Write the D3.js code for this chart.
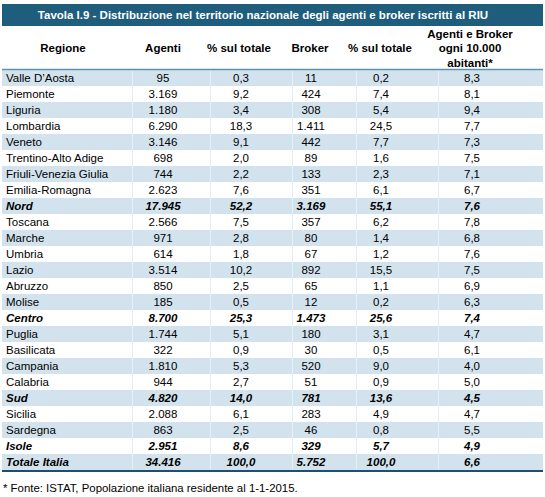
<!DOCTYPE html>
<html><head><meta charset="utf-8">
<script src="https://cdn.jsdelivr.net/npm/d3@7"></script>
<style>
html,body{margin:0;padding:0;background:#fff;}
svg{display:block;font-family:"Liberation Sans",Arial,sans-serif;}
</style></head>
<body>
<svg id="chart" width="545" height="497"></svg>
<script>
const title = "Tavola I.9 - Distribuzione nel territorio nazionale degli agenti e broker iscritti al RIU";
const headers = [["Regione"],["Agenti"],["% sul totale"],["Broker"],["% sul totale"],["Agenti e Broker","ogni 10.000","abitanti*"]];
const regions = ["Valle D’Aosta","Piemonte","Liguria","Lombardia","Veneto","Trentino-Alto Adige","Friuli-Venezia Giulia","Emilia-Romagna","Nord","Toscana","Marche","Umbria","Lazio","Abruzzo","Molise","Centro","Puglia","Basilicata","Campania","Calabria","Sud","Sicilia","Sardegna","Isole","Totale Italia"];
const totalRows = ["Nord","Centro","Sud","Isole","Totale Italia"];
const agenti = [95,3169,1180,6290,3146,698,744,2623,17945,2566,971,614,3514,850,185,8700,1744,322,1810,944,4820,2088,863,2951,34416];
const pctAgenti = [0.3,9.2,3.4,18.3,9.1,2.0,2.2,7.6,52.2,7.5,2.8,1.8,10.2,2.5,0.5,25.3,5.1,0.9,5.3,2.7,14.0,6.1,2.5,8.6,100.0];
const broker = [11,424,308,1411,442,89,133,351,3169,357,80,67,892,65,12,1473,180,30,520,51,781,283,46,329,5752];
const pctBroker = [0.2,7.4,5.4,24.5,7.7,1.6,2.3,6.1,55.1,6.2,1.4,1.2,15.5,1.1,0.2,25.6,3.1,0.5,9.0,0.9,13.6,4.9,0.8,5.7,100.0];
const perDieciMila = [8.3,8.1,9.4,7.7,7.3,7.5,7.1,6.7,7.6,7.8,6.8,7.6,7.5,6.9,6.3,7.4,4.7,6.1,4.0,5.0,4.5,4.7,5.5,4.9,6.6];
const footnote = "* Fonte: ISTAT, Popolazione italiana residente al 1-1-2015.";

const it = d3.formatLocale({decimal:",", thousands:".", grouping:[3], currency:["€",""]});
const fInt = it.format(",d"), fDec = it.format(",.1f");

const svg = d3.select("#chart");
const left = 2, right = 543;
const FS = 11.5;

// title bar
svg.append("rect").attr("x",left).attr("y",4).attr("width",right-left).attr("height",22).attr("fill","#1e5d7c");
svg.append("text").attr("x",263).attr("y",19).attr("text-anchor","middle")
  .attr("fill","#fff").attr("font-weight","bold").attr("font-size",11.5).text(title);

// rows
const y = d3.scaleBand().domain(d3.range(regions.length)).range([70,470]).paddingInner(0);
const colCenters = [null,163,241,311,381,472];
const colEdges = [132,210,292,356,438];

const body = svg.append("g");
body.selectAll("rect.row").data(regions).join("rect").attr("class","row")
  .attr("x",left).attr("width",right-left)
  .attr("y",(d,i)=>y(i)).attr("height",y.bandwidth())
  .attr("fill",(d,i)=> i%2===0 ? "#d3e3ed" : "#fff");

// column separators
body.selectAll("line.sep").data(colEdges).join("line").attr("class","sep")
  .attr("x1",d=>d+0.5).attr("x2",d=>d+0.5).attr("y1",70).attr("y2",470)
  .attr("stroke","#e6eff5").attr("stroke-width",1);

// header line & bottom line
svg.append("line").attr("x1",left).attr("x2",right).attr("y1",69.5).attr("y2",69.5).attr("stroke","#5b93ab").attr("stroke-width",1.5);
svg.append("line").attr("x1",left).attr("x2",right).attr("y1",471).attr("y2",471).attr("stroke","#1f4f70").attr("stroke-width",2);

// headers
const hx = [63,163,239,310,380,470];
headers.forEach((lines,i)=>{
  const n = lines.length;
  const t = svg.append("text").attr("text-anchor","middle").attr("font-weight","bold").attr("font-size",FS).attr("fill","#000");
  lines.forEach((l,j)=>{
    t.append("tspan").attr("x",hx[i]).attr("y", 52 + (j-(n-1)/2)*14.5).text(l);
  });
});

// data cells
const cols = [agenti.map(fInt), pctAgenti.map(fDec), broker.map(fInt), pctBroker.map(fDec), perDieciMila.map(fDec)];
const rowG = svg.append("g").selectAll("g").data(regions).join("g")
  .attr("transform",(d,i)=>`translate(0,${y(i)+y.bandwidth()/2+4})`)
  .attr("font-size",FS)
  .attr("font-weight",d=>totalRows.includes(d)?"bold":"normal")
  .attr("font-style",d=>totalRows.includes(d)?"italic":"normal");
rowG.append("text").attr("x",6).text(d=>d);
cols.forEach((vals,c)=>{
  rowG.append("text").attr("x",colCenters[c+1]).attr("text-anchor","middle").text((d,i)=>vals[i]);
});

// footnote
svg.append("text").attr("x",3).attr("y",492).attr("font-size",11.4).attr("fill","#000").text(footnote);
</script>
</body></html>
